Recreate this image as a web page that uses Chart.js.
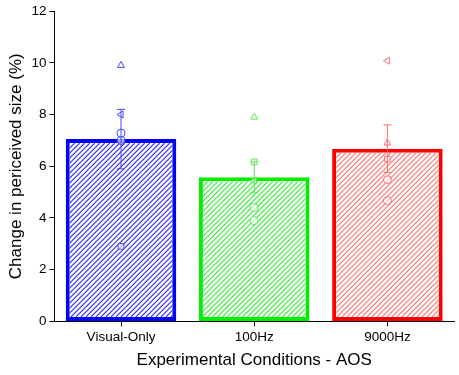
<!DOCTYPE html>
<html>
<head>
<meta charset="utf-8">
<script src="https://cdn.jsdelivr.net/npm/chart.js@4/dist/chart.umd.min.js"></script>
<style>
  html, body { margin: 0; padding: 0; background: #fff; }
  #wrap { width: 459px; height: 375px; }
</style>
</head>
<body>
<div id="wrap"><canvas id="miGrafico"></canvas></div>
<script>
// Datos
const conditions = ['Visual-Only', '100Hz', '9000Hz'];
const meanChange = [7.05, 5.57, 6.68];
const semChange = [1.15, 0.6, 0.92];
// un arreglo por participante (misma forma de marcador)
const subj1 = [9.9, 7.9, 6.9];
const subj2 = [8.0, 5.45, 10.08];
const subj3 = [7.28, 4.4, 5.48];
const subj4 = [2.9, 6.17, 6.28];
const subj5 = [7.0, 3.9, 4.67];
const yTicks = [0, 2, 4, 6, 8, 10, 12];

const barColors = ['#0000ff', '#00ee00', '#ff0000'];
const hatchColors = ['#2424ff', '#30ee30', '#ff7070'];
const pointColors = ['rgba(70,70,255,1)', 'rgba(90,230,90,1)', 'rgba(255,110,110,1)'];

function puntos(values, style, rot) {
    return {
        type: 'line',
        showLine: false,
        order: 1,
        data: values.map((v, i) => ({ x: conditions[i], y: v })),
        pointStyle: style,
        rotation: rot,
        pointRadius: 4,
        pointBorderWidth: 1,
        pointBackgroundColor: 'rgba(255,255,255,0.6)',
        pointBorderColor: pointColors,
        borderColor: pointColors,
    };
}

// rayado de las barras (dentro del borde)
const hatchBars = {
    id: 'hatchBars',
    afterDatasetDraw(chart, args) {
        if (args.index !== 0) return;
        const ctx = chart.ctx;
        chart.getDatasetMeta(0).data.forEach((bar, i) => {
            const p = bar.getProps(['x', 'y', 'base', 'width'], true);
            const l = p.x - p.width / 2 + 4, r = p.x + p.width / 2 - 4;
            const t = Math.min(p.y, p.base) + 4, b = Math.max(p.y, p.base) - 4;
            ctx.save();
            ctx.beginPath();
            ctx.rect(l, t, r - l, b - t);
            ctx.clip();
            ctx.strokeStyle = hatchColors[i];
            ctx.lineWidth = 1.1;
            ctx.beginPath();
            const h = b - t;
            for (let s = l - h; s < r; s += 5) {
                ctx.moveTo(s, b);
                ctx.lineTo(s + h, t);
            }
            ctx.stroke();
            ctx.restore();
        });
    }
};

// barras de error
const errorBars = {
    id: 'errorBars',
    afterDatasetsDraw(chart) {
        const ctx = chart.ctx;
        const x = chart.scales.x, y = chart.scales.y;
        ctx.save();
        ctx.lineWidth = 1;
        conditions.forEach((c, i) => {
            const px = x.getPixelForValue(i);
            const top = y.getPixelForValue(meanChange[i] + semChange[i]);
            const bot = y.getPixelForValue(meanChange[i] - semChange[i]);
            ctx.strokeStyle = pointColors[i];
            ctx.beginPath();
            ctx.moveTo(px, top); ctx.lineTo(px, bot);
            ctx.moveTo(px - 4, top); ctx.lineTo(px + 4, top);
            ctx.moveTo(px - 4, bot); ctx.lineTo(px + 4, bot);
            ctx.stroke();
        });
        ctx.restore();
    }
};

Chart.defaults.font.family = '"Liberation Sans", Arial, sans-serif';
Chart.defaults.color = '#000';

new Chart(document.getElementById('miGrafico'), {
    type: 'bar',
    data: {
        labels: conditions,
        datasets: [
            {
                order: 10,
                data: meanChange,
                backgroundColor: '#ffffff',
                borderColor: barColors,
                borderWidth: 4,
                borderSkipped: false,
                barPercentage: 0.83,
                categoryPercentage: 1,
            },
            puntos(subj1, 'triangle', 0),
            puntos(subj2, 'triangle', -90),
            puntos(subj3, 'circle', 0),
            puntos(subj4, 'rect', 0),
            puntos(subj5, 'circle', 0),
        ],
    },
    plugins: [hatchBars, errorBars],
    options: {
        responsive: true,
        maintainAspectRatio: false,
        animation: false,
        layout: { padding: { top: 0, right: 3, left: 2, bottom: 2 } },
        plugins: {
            legend: { display: false },
            tooltip: { enabled: false },
        },
        scales: {
            x: {
                grid: { drawOnChartArea: false, offset: false, tickLength: 5, color: '#000' },
                border: { color: '#000', width: 1 },
                ticks: { font: { size: 13.5 }, padding: 3 },
                title: { display: true, text: 'Experimental Conditions - AOS', font: { size: 17 }, padding: { top: 2, bottom: 2 } },
            },
            y: {
                min: 0, max: 12,
                afterBuildTicks: (s) => { s.ticks = yTicks.map(v => ({ value: v })); },
                grid: { drawOnChartArea: false, tickLength: 5, color: '#000' },
                border: { color: '#000', width: 1 },
                ticks: { font: { size: 13.5 }, padding: 3 },
                title: { display: true, text: 'Change in periceived size (%)', font: { size: 17 }, padding: { bottom: 2 } },
            },
        },
    },
});
</script>
</body>
</html>
